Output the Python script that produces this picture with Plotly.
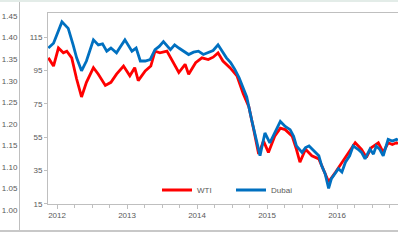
import plotly.graph_objects as go

# Inset chart data (decimal year, USD/bbl)
dubai_t = [2011.876, 2011.95, 2012.07, 2012.16, 2012.23, 2012.28, 2012.35, 2012.42, 2012.52, 2012.59,
           2012.65, 2012.71, 2012.77, 2012.85, 2012.91, 2012.97, 2013.07, 2013.13, 2013.19, 2013.26,
           2013.33, 2013.40, 2013.46, 2013.52, 2013.62, 2013.68, 2013.74, 2013.81, 2013.88, 2013.95,
           2014.02, 2014.09, 2014.16, 2014.23, 2014.30, 2014.36, 2014.42, 2014.48, 2014.54, 2014.60,
           2014.64, 2014.71, 2014.78, 2014.85, 2014.90, 2014.97, 2015.04, 2015.11, 2015.19, 2015.26,
           2015.33, 2015.38, 2015.42, 2015.50, 2015.55, 2015.60, 2015.69, 2015.74, 2015.78, 2015.83,
           2015.88, 2015.92, 2015.97, 2016.02, 2016.07, 2016.12, 2016.18, 2016.23, 2016.30, 2016.35,
           2016.40, 2016.47, 2016.52, 2016.56, 2016.61, 2016.66, 2016.73, 2016.79, 2016.85, 2016.87]
dubai_v = [108.5, 111.4, 124.2, 120.3, 110.4, 102.6, 94.8, 100.7, 113.4, 110.4,
           111.0, 106.6, 108.5, 105.6, 109.5, 113.4, 106.6, 108.5, 100.7, 100.7,
           101.6, 107.5, 109.5, 112.4, 107.5, 110.4, 108.5, 106.6, 104.6, 106.0,
           106.6, 104.6, 105.6, 107.0, 110.4, 106.6, 102.6, 99.7, 95.7, 90.8,
           86.9, 79.1, 65.4, 51.6, 43.8, 57.5, 51.6, 57.5, 64.4, 61.4,
           59.5, 55.5, 49.7, 45.8, 48.7, 49.7, 45.8, 43.8, 37.9, 33.0,
           24.2, 30.0, 33.0, 36.0, 34.0, 39.9, 43.8, 49.7, 47.7, 45.8,
           41.9, 47.7, 44.8, 49.7, 47.7, 43.8, 53.6, 52.6, 53.6, 53.0]

wti_t = [2011.876, 2011.95, 2012.02, 2012.09, 2012.14, 2012.21, 2012.28, 2012.35, 2012.42, 2012.52,
         2012.59, 2012.69, 2012.77, 2012.85, 2012.95, 2013.04, 2013.11, 2013.16, 2013.26, 2013.34,
         2013.40, 2013.47, 2013.57, 2013.64, 2013.74, 2013.83, 2013.88, 2013.98, 2014.07, 2014.16,
         2014.23, 2014.30, 2014.37, 2014.47, 2014.57, 2014.66, 2014.74, 2014.81, 2014.88, 2014.95,
         2015.02, 2015.11, 2015.19, 2015.26, 2015.36, 2015.42, 2015.47, 2015.55, 2015.64, 2015.74,
         2015.83, 2015.88, 2015.98, 2016.07, 2016.14, 2016.26, 2016.35, 2016.42, 2016.49, 2016.59,
         2016.66, 2016.73, 2016.79, 2016.85, 2016.87]
wti_v = [102.6, 97.7, 108.5, 105.6, 106.6, 102.6, 89.9, 79.1, 87.9, 96.7,
         92.8, 86.0, 87.9, 92.8, 97.7, 91.8, 96.7, 88.9, 94.8, 97.7,
         106.6, 105.6, 106.6, 101.6, 93.8, 98.7, 92.8, 99.7, 102.6, 101.6,
         103.0, 105.6, 100.7, 96.7, 91.8, 81.0, 73.2, 59.5, 44.8, 52.6,
         45.8, 55.5, 60.4, 59.5, 55.5, 47.7, 39.9, 47.7, 43.8, 41.9,
         33.0, 28.1, 34.0, 39.9, 43.8, 51.6, 47.7, 42.8, 48.7, 51.6,
         45.8, 51.6, 50.6, 51.6, 51.0]

year_ticks = [2012, 2013, 2014, 2015, 2016]
price_ticks = [15, 35, 55, 75, 95, 115]
ratio_ticks = [1.00, 1.05, 1.10, 1.15, 1.20, 1.25, 1.30, 1.35, 1.40, 1.45]

W, H = 398, 242
font = dict(family="Liberation Sans, Arial, sans-serif", size=8, color="#595959")
axis_gray = "#bfbfbf"

fig = go.Figure()
fig.add_trace(go.Scatter(x=wti_t, y=wti_v, mode="lines", name="WTI",
                         line=dict(color="#ff0000", width=2.8)))
fig.add_trace(go.Scatter(x=dubai_t, y=dubai_v, mode="lines", name="Dubai",
                         line=dict(color="#0070c0", width=2.8)))
# invisible trace for the background (outer) axis
fig.add_trace(go.Scatter(x=[0], y=[1.2], xaxis="x2", yaxis="y2", mode="markers",
                         marker=dict(opacity=0), showlegend=False, hoverinfo="skip"))

x0 = 48 / W
fig.update_layout(
    width=W, height=H,
    margin=dict(l=0, r=0, t=0, b=0),
    paper_bgcolor="white", plot_bgcolor="rgba(0,0,0,0)",
    font=font,
    showlegend=True,
    legend=dict(orientation="h", x=157 / W, y=(H - 194) / H, xanchor="left", yanchor="middle",
                bgcolor="rgba(0,0,0,0)", font=dict(size=8, color="#595959"),
                itemwidth=30, entrywidth=29, tracegroupgap=0),
    xaxis=dict(domain=[x0, 1], range=[2011.871, 2016.871], tickvals=year_ticks,
               ticktext=[str(y) for y in year_ticks],
               showgrid=False, zeroline=False, showline=True, linecolor=axis_gray, linewidth=1,
               mirror=True, ticks="outside", ticklen=4, tickcolor=axis_gray,
               minor=dict(dtick=0.25, tick0=2012, ticks="outside", ticklen=3, tickcolor=axis_gray),
               anchor="y", tickfont=font),
    yaxis=dict(domain=[(H - 208) / H, (H - 13) / H], range=[15, 129.7], tickvals=price_ticks,
               showgrid=False, zeroline=False, showline=True, linecolor=axis_gray, linewidth=1,
               ticks="outside", ticklen=3, tickcolor=axis_gray, anchor="x", tickfont=font),
    xaxis2=dict(domain=[20 / W, 1], range=[0, 1], visible=False, anchor="y2"),
    yaxis2=dict(domain=[(H - 236) / H, 1], range=[0.9510, 1.4873], tickvals=ratio_ticks,
                tickformat=".2f", showgrid=False, zeroline=False, showline=True,
                linecolor=axis_gray, linewidth=1, ticks="", anchor="x2", tickfont=font),
)
# outer frame lines: bottom rule and top band
fig.add_shape(type="line", xref="paper", yref="paper", x0=0, x1=1, y0=(H - 236) / H, y1=(H - 236) / H,
              line=dict(color="#c8c8c8", width=2))
fig.add_shape(type="rect", xref="paper", yref="paper", x0=0, x1=1, y0=1 - 2 / H, y1=1,
              line=dict(width=0), fillcolor="#e3ece8")
fig.add_annotation(xref="paper", yref="paper", x=407 / W, y=(H - 222) / H, text="2017",
                   showarrow=False, font=font, xanchor="center", yanchor="middle")

fig.write_html("out.html", config={"displayModeBar": False},
               post_script="document.body.style.margin='0';document.body.style.overflow='hidden';")
